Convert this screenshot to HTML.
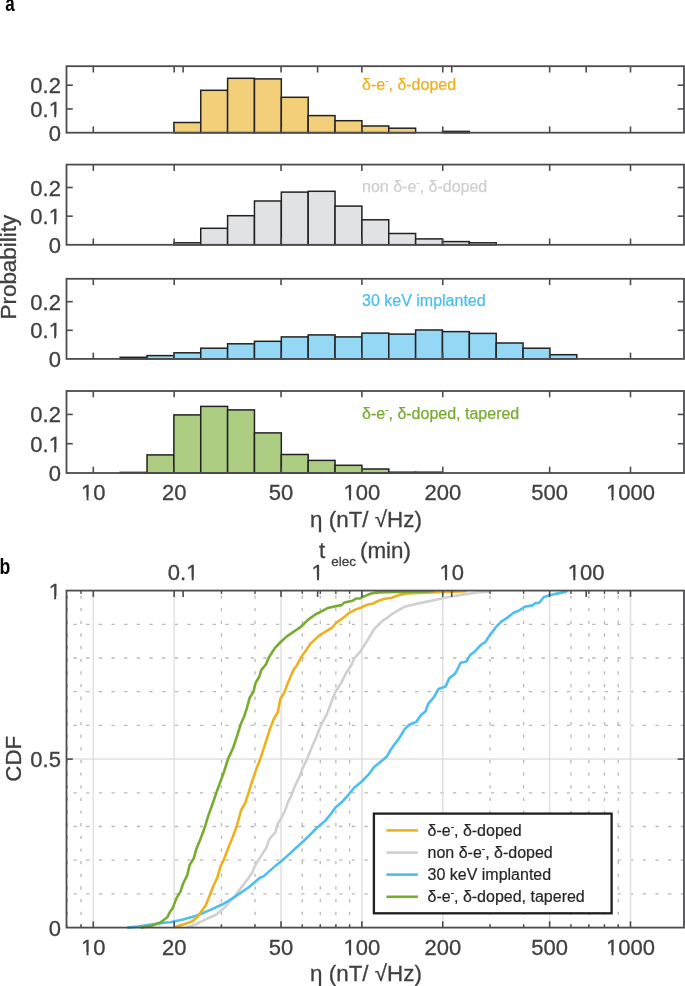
<!DOCTYPE html>
<html><head><meta charset="utf-8"><style>
html,body{margin:0;padding:0;background:#fff;}
svg{display:block;will-change:transform;}
text{font-family:"Liberation Sans", sans-serif;}
.tk{font-size:22px;fill:#404040;stroke:#404040;stroke-width:0.3px;}
.lab{font-size:22.4px;fill:#404040;stroke:#404040;stroke-width:0.3px;}
.ann{font-size:16px;}
.pl{font-size:22px;font-weight:bold;fill:#000;}
</style></head><body>
<svg width="685" height="986" viewBox="0 0 685 986">
<rect x="173.88" y="122.50" width="26.86" height="10.20" fill="#f4cf79" stroke="#222" stroke-width="1.5"/>
<rect x="200.74" y="90.30" width="26.86" height="42.40" fill="#f4cf79" stroke="#222" stroke-width="1.5"/>
<rect x="227.60" y="78.30" width="26.86" height="54.40" fill="#f4cf79" stroke="#222" stroke-width="1.5"/>
<rect x="254.46" y="78.90" width="26.86" height="53.80" fill="#f4cf79" stroke="#222" stroke-width="1.5"/>
<rect x="281.32" y="97.30" width="26.86" height="35.40" fill="#f4cf79" stroke="#222" stroke-width="1.5"/>
<rect x="308.18" y="115.60" width="26.86" height="17.10" fill="#f4cf79" stroke="#222" stroke-width="1.5"/>
<rect x="335.04" y="120.70" width="26.86" height="12.00" fill="#f4cf79" stroke="#222" stroke-width="1.5"/>
<rect x="361.90" y="126.00" width="26.86" height="6.70" fill="#f4cf79" stroke="#222" stroke-width="1.5"/>
<rect x="388.76" y="128.20" width="26.86" height="4.50" fill="#f4cf79" stroke="#222" stroke-width="1.5"/>
<rect x="415.62" y="132.70" width="26.86" height="0.00" fill="#f4cf79" stroke="#222" stroke-width="1.5"/>
<rect x="442.48" y="131.40" width="26.86" height="1.30" fill="#f4cf79" stroke="#222" stroke-width="1.5"/>
<rect x="66.5" y="66.2" width="617.5" height="66.49999999999999" fill="none" stroke="#4b4c4f" stroke-width="1.8"/>
<line x1="93.30" y1="132.7" x2="93.30" y2="126.39999999999999" stroke="#4b4c4f" stroke-width="1.6"/>
<line x1="93.30" y1="66.2" x2="93.30" y2="72.5" stroke="#4b4c4f" stroke-width="1.6"/>
<line x1="174.16" y1="132.7" x2="174.16" y2="126.39999999999999" stroke="#4b4c4f" stroke-width="1.6"/>
<line x1="174.16" y1="66.2" x2="174.16" y2="72.5" stroke="#4b4c4f" stroke-width="1.6"/>
<line x1="281.04" y1="132.7" x2="281.04" y2="126.39999999999999" stroke="#4b4c4f" stroke-width="1.6"/>
<line x1="281.04" y1="66.2" x2="281.04" y2="72.5" stroke="#4b4c4f" stroke-width="1.6"/>
<line x1="361.90" y1="132.7" x2="361.90" y2="126.39999999999999" stroke="#4b4c4f" stroke-width="1.6"/>
<line x1="361.90" y1="66.2" x2="361.90" y2="72.5" stroke="#4b4c4f" stroke-width="1.6"/>
<line x1="442.76" y1="132.7" x2="442.76" y2="126.39999999999999" stroke="#4b4c4f" stroke-width="1.6"/>
<line x1="442.76" y1="66.2" x2="442.76" y2="72.5" stroke="#4b4c4f" stroke-width="1.6"/>
<line x1="549.64" y1="132.7" x2="549.64" y2="126.39999999999999" stroke="#4b4c4f" stroke-width="1.6"/>
<line x1="549.64" y1="66.2" x2="549.64" y2="72.5" stroke="#4b4c4f" stroke-width="1.6"/>
<line x1="630.50" y1="132.7" x2="630.50" y2="126.39999999999999" stroke="#4b4c4f" stroke-width="1.6"/>
<line x1="630.50" y1="66.2" x2="630.50" y2="72.5" stroke="#4b4c4f" stroke-width="1.6"/>
<line x1="183.13" y1="66.2" x2="183.13" y2="72.5" stroke="#4b4c4f" stroke-width="1.6"/>
<line x1="317.60" y1="66.2" x2="317.60" y2="72.5" stroke="#4b4c4f" stroke-width="1.6"/>
<line x1="451.73" y1="66.2" x2="451.73" y2="72.5" stroke="#4b4c4f" stroke-width="1.6"/>
<line x1="586.20" y1="66.2" x2="586.20" y2="72.5" stroke="#4b4c4f" stroke-width="1.6"/>
<line x1="66.5" y1="108.95" x2="72.8" y2="108.95" stroke="#4b4c4f" stroke-width="1.6"/>
<line x1="684.0" y1="108.95" x2="677.7" y2="108.95" stroke="#4b4c4f" stroke-width="1.6"/>
<line x1="66.5" y1="85.20" x2="72.8" y2="85.20" stroke="#4b4c4f" stroke-width="1.6"/>
<line x1="684.0" y1="85.20" x2="677.7" y2="85.20" stroke="#4b4c4f" stroke-width="1.6"/>
<text transform="translate(60.90,140.70) scale(1,1.02)" text-anchor="end" class="tk">0</text>
<text transform="translate(60.90,116.95) scale(1,1.02)" text-anchor="end" class="tk">0.1</text>
<text transform="translate(60.90,93.20) scale(1,1.02)" text-anchor="end" class="tk">0.2</text>
<text x="362" y="90.0" class="ann" fill="#edb120" stroke="#edb120" stroke-width="0.25">δ-e<tspan dy="-6" font-size="10">-</tspan><tspan dy="6">, δ-doped</tspan></text>
<rect x="173.88" y="242.80" width="26.86" height="2.00" fill="#e1e2e3" stroke="#222" stroke-width="1.5"/>
<rect x="200.74" y="228.30" width="26.86" height="16.50" fill="#e1e2e3" stroke="#222" stroke-width="1.5"/>
<rect x="227.60" y="215.70" width="26.86" height="29.10" fill="#e1e2e3" stroke="#222" stroke-width="1.5"/>
<rect x="254.46" y="201.00" width="26.86" height="43.80" fill="#e1e2e3" stroke="#222" stroke-width="1.5"/>
<rect x="281.32" y="192.10" width="26.86" height="52.70" fill="#e1e2e3" stroke="#222" stroke-width="1.5"/>
<rect x="308.18" y="191.30" width="26.86" height="53.50" fill="#e1e2e3" stroke="#222" stroke-width="1.5"/>
<rect x="335.04" y="206.10" width="26.86" height="38.70" fill="#e1e2e3" stroke="#222" stroke-width="1.5"/>
<rect x="361.90" y="219.80" width="26.86" height="25.00" fill="#e1e2e3" stroke="#222" stroke-width="1.5"/>
<rect x="388.76" y="233.50" width="26.86" height="11.30" fill="#e1e2e3" stroke="#222" stroke-width="1.5"/>
<rect x="415.62" y="238.90" width="26.86" height="5.90" fill="#e1e2e3" stroke="#222" stroke-width="1.5"/>
<rect x="442.48" y="241.60" width="26.86" height="3.20" fill="#e1e2e3" stroke="#222" stroke-width="1.5"/>
<rect x="469.34" y="242.80" width="26.86" height="2.00" fill="#e1e2e3" stroke="#222" stroke-width="1.5"/>
<rect x="66.5" y="164.6" width="617.5" height="80.20000000000002" fill="none" stroke="#4b4c4f" stroke-width="1.8"/>
<line x1="93.30" y1="244.8" x2="93.30" y2="238.5" stroke="#4b4c4f" stroke-width="1.6"/>
<line x1="93.30" y1="164.6" x2="93.30" y2="170.9" stroke="#4b4c4f" stroke-width="1.6"/>
<line x1="174.16" y1="244.8" x2="174.16" y2="238.5" stroke="#4b4c4f" stroke-width="1.6"/>
<line x1="174.16" y1="164.6" x2="174.16" y2="170.9" stroke="#4b4c4f" stroke-width="1.6"/>
<line x1="281.04" y1="244.8" x2="281.04" y2="238.5" stroke="#4b4c4f" stroke-width="1.6"/>
<line x1="281.04" y1="164.6" x2="281.04" y2="170.9" stroke="#4b4c4f" stroke-width="1.6"/>
<line x1="361.90" y1="244.8" x2="361.90" y2="238.5" stroke="#4b4c4f" stroke-width="1.6"/>
<line x1="361.90" y1="164.6" x2="361.90" y2="170.9" stroke="#4b4c4f" stroke-width="1.6"/>
<line x1="442.76" y1="244.8" x2="442.76" y2="238.5" stroke="#4b4c4f" stroke-width="1.6"/>
<line x1="442.76" y1="164.6" x2="442.76" y2="170.9" stroke="#4b4c4f" stroke-width="1.6"/>
<line x1="549.64" y1="244.8" x2="549.64" y2="238.5" stroke="#4b4c4f" stroke-width="1.6"/>
<line x1="549.64" y1="164.6" x2="549.64" y2="170.9" stroke="#4b4c4f" stroke-width="1.6"/>
<line x1="630.50" y1="244.8" x2="630.50" y2="238.5" stroke="#4b4c4f" stroke-width="1.6"/>
<line x1="630.50" y1="164.6" x2="630.50" y2="170.9" stroke="#4b4c4f" stroke-width="1.6"/>
<line x1="66.5" y1="216.16" x2="72.8" y2="216.16" stroke="#4b4c4f" stroke-width="1.6"/>
<line x1="684.0" y1="216.16" x2="677.7" y2="216.16" stroke="#4b4c4f" stroke-width="1.6"/>
<line x1="66.5" y1="187.51" x2="72.8" y2="187.51" stroke="#4b4c4f" stroke-width="1.6"/>
<line x1="684.0" y1="187.51" x2="677.7" y2="187.51" stroke="#4b4c4f" stroke-width="1.6"/>
<text transform="translate(60.90,252.80) scale(1,1.02)" text-anchor="end" class="tk">0</text>
<text transform="translate(60.90,224.16) scale(1,1.02)" text-anchor="end" class="tk">0.1</text>
<text transform="translate(60.90,195.51) scale(1,1.02)" text-anchor="end" class="tk">0.2</text>
<text x="362" y="191.8" class="ann" fill="#cfcfcf" stroke="#cfcfcf" stroke-width="0.25">non δ-e<tspan dy="-6" font-size="10">-</tspan><tspan dy="6">, δ-doped</tspan></text>
<rect x="120.16" y="357.30" width="26.86" height="1.60" fill="#95d8f5" stroke="#222" stroke-width="1.5"/>
<rect x="147.02" y="355.60" width="26.86" height="3.30" fill="#95d8f5" stroke="#222" stroke-width="1.5"/>
<rect x="173.88" y="352.80" width="26.86" height="6.10" fill="#95d8f5" stroke="#222" stroke-width="1.5"/>
<rect x="200.74" y="348.20" width="26.86" height="10.70" fill="#95d8f5" stroke="#222" stroke-width="1.5"/>
<rect x="227.60" y="343.80" width="26.86" height="15.10" fill="#95d8f5" stroke="#222" stroke-width="1.5"/>
<rect x="254.46" y="341.30" width="26.86" height="17.60" fill="#95d8f5" stroke="#222" stroke-width="1.5"/>
<rect x="281.32" y="336.90" width="26.86" height="22.00" fill="#95d8f5" stroke="#222" stroke-width="1.5"/>
<rect x="308.18" y="334.90" width="26.86" height="24.00" fill="#95d8f5" stroke="#222" stroke-width="1.5"/>
<rect x="335.04" y="336.90" width="26.86" height="22.00" fill="#95d8f5" stroke="#222" stroke-width="1.5"/>
<rect x="361.90" y="333.10" width="26.86" height="25.80" fill="#95d8f5" stroke="#222" stroke-width="1.5"/>
<rect x="388.76" y="334.10" width="26.86" height="24.80" fill="#95d8f5" stroke="#222" stroke-width="1.5"/>
<rect x="415.62" y="330.00" width="26.86" height="28.90" fill="#95d8f5" stroke="#222" stroke-width="1.5"/>
<rect x="442.48" y="331.60" width="26.86" height="27.30" fill="#95d8f5" stroke="#222" stroke-width="1.5"/>
<rect x="469.34" y="333.40" width="26.86" height="25.50" fill="#95d8f5" stroke="#222" stroke-width="1.5"/>
<rect x="496.20" y="343.00" width="26.86" height="15.90" fill="#95d8f5" stroke="#222" stroke-width="1.5"/>
<rect x="523.06" y="348.20" width="26.86" height="10.70" fill="#95d8f5" stroke="#222" stroke-width="1.5"/>
<rect x="549.92" y="354.70" width="26.86" height="4.20" fill="#95d8f5" stroke="#222" stroke-width="1.5"/>
<rect x="66.5" y="278.8" width="617.5" height="80.09999999999997" fill="none" stroke="#4b4c4f" stroke-width="1.8"/>
<line x1="93.30" y1="358.9" x2="93.30" y2="352.59999999999997" stroke="#4b4c4f" stroke-width="1.6"/>
<line x1="93.30" y1="278.8" x2="93.30" y2="285.1" stroke="#4b4c4f" stroke-width="1.6"/>
<line x1="174.16" y1="358.9" x2="174.16" y2="352.59999999999997" stroke="#4b4c4f" stroke-width="1.6"/>
<line x1="174.16" y1="278.8" x2="174.16" y2="285.1" stroke="#4b4c4f" stroke-width="1.6"/>
<line x1="281.04" y1="358.9" x2="281.04" y2="352.59999999999997" stroke="#4b4c4f" stroke-width="1.6"/>
<line x1="281.04" y1="278.8" x2="281.04" y2="285.1" stroke="#4b4c4f" stroke-width="1.6"/>
<line x1="361.90" y1="358.9" x2="361.90" y2="352.59999999999997" stroke="#4b4c4f" stroke-width="1.6"/>
<line x1="361.90" y1="278.8" x2="361.90" y2="285.1" stroke="#4b4c4f" stroke-width="1.6"/>
<line x1="442.76" y1="358.9" x2="442.76" y2="352.59999999999997" stroke="#4b4c4f" stroke-width="1.6"/>
<line x1="442.76" y1="278.8" x2="442.76" y2="285.1" stroke="#4b4c4f" stroke-width="1.6"/>
<line x1="549.64" y1="358.9" x2="549.64" y2="352.59999999999997" stroke="#4b4c4f" stroke-width="1.6"/>
<line x1="549.64" y1="278.8" x2="549.64" y2="285.1" stroke="#4b4c4f" stroke-width="1.6"/>
<line x1="630.50" y1="358.9" x2="630.50" y2="352.59999999999997" stroke="#4b4c4f" stroke-width="1.6"/>
<line x1="630.50" y1="278.8" x2="630.50" y2="285.1" stroke="#4b4c4f" stroke-width="1.6"/>
<line x1="66.5" y1="330.29" x2="72.8" y2="330.29" stroke="#4b4c4f" stroke-width="1.6"/>
<line x1="684.0" y1="330.29" x2="677.7" y2="330.29" stroke="#4b4c4f" stroke-width="1.6"/>
<line x1="66.5" y1="301.69" x2="72.8" y2="301.69" stroke="#4b4c4f" stroke-width="1.6"/>
<line x1="684.0" y1="301.69" x2="677.7" y2="301.69" stroke="#4b4c4f" stroke-width="1.6"/>
<text transform="translate(60.90,366.90) scale(1,1.02)" text-anchor="end" class="tk">0</text>
<text transform="translate(60.90,338.29) scale(1,1.02)" text-anchor="end" class="tk">0.1</text>
<text transform="translate(60.90,309.69) scale(1,1.02)" text-anchor="end" class="tk">0.2</text>
<text x="362" y="306.0" class="ann" fill="#4dbeee" stroke="#4dbeee" stroke-width="0.25">30 keV implanted</text>
<rect x="120.16" y="472.40" width="26.86" height="0.60" fill="#adcd83" stroke="#222" stroke-width="1.5"/>
<rect x="147.02" y="454.90" width="26.86" height="18.10" fill="#adcd83" stroke="#222" stroke-width="1.5"/>
<rect x="173.88" y="414.90" width="26.86" height="58.10" fill="#adcd83" stroke="#222" stroke-width="1.5"/>
<rect x="200.74" y="406.40" width="26.86" height="66.60" fill="#adcd83" stroke="#222" stroke-width="1.5"/>
<rect x="227.60" y="409.90" width="26.86" height="63.10" fill="#adcd83" stroke="#222" stroke-width="1.5"/>
<rect x="254.46" y="432.90" width="26.86" height="40.10" fill="#adcd83" stroke="#222" stroke-width="1.5"/>
<rect x="281.32" y="454.50" width="26.86" height="18.50" fill="#adcd83" stroke="#222" stroke-width="1.5"/>
<rect x="308.18" y="460.40" width="26.86" height="12.60" fill="#adcd83" stroke="#222" stroke-width="1.5"/>
<rect x="335.04" y="465.30" width="26.86" height="7.70" fill="#adcd83" stroke="#222" stroke-width="1.5"/>
<rect x="361.90" y="469.00" width="26.86" height="4.00" fill="#adcd83" stroke="#222" stroke-width="1.5"/>
<rect x="388.76" y="472.20" width="26.86" height="0.80" fill="#adcd83" stroke="#222" stroke-width="1.5"/>
<rect x="415.62" y="472.20" width="26.86" height="0.80" fill="#adcd83" stroke="#222" stroke-width="1.5"/>
<rect x="66.5" y="391.0" width="617.5" height="82.0" fill="none" stroke="#4b4c4f" stroke-width="1.8"/>
<line x1="93.30" y1="473.0" x2="93.30" y2="466.7" stroke="#4b4c4f" stroke-width="1.6"/>
<line x1="93.30" y1="391.0" x2="93.30" y2="397.3" stroke="#4b4c4f" stroke-width="1.6"/>
<line x1="174.16" y1="473.0" x2="174.16" y2="466.7" stroke="#4b4c4f" stroke-width="1.6"/>
<line x1="174.16" y1="391.0" x2="174.16" y2="397.3" stroke="#4b4c4f" stroke-width="1.6"/>
<line x1="281.04" y1="473.0" x2="281.04" y2="466.7" stroke="#4b4c4f" stroke-width="1.6"/>
<line x1="281.04" y1="391.0" x2="281.04" y2="397.3" stroke="#4b4c4f" stroke-width="1.6"/>
<line x1="361.90" y1="473.0" x2="361.90" y2="466.7" stroke="#4b4c4f" stroke-width="1.6"/>
<line x1="361.90" y1="391.0" x2="361.90" y2="397.3" stroke="#4b4c4f" stroke-width="1.6"/>
<line x1="442.76" y1="473.0" x2="442.76" y2="466.7" stroke="#4b4c4f" stroke-width="1.6"/>
<line x1="442.76" y1="391.0" x2="442.76" y2="397.3" stroke="#4b4c4f" stroke-width="1.6"/>
<line x1="549.64" y1="473.0" x2="549.64" y2="466.7" stroke="#4b4c4f" stroke-width="1.6"/>
<line x1="549.64" y1="391.0" x2="549.64" y2="397.3" stroke="#4b4c4f" stroke-width="1.6"/>
<line x1="630.50" y1="473.0" x2="630.50" y2="466.7" stroke="#4b4c4f" stroke-width="1.6"/>
<line x1="630.50" y1="391.0" x2="630.50" y2="397.3" stroke="#4b4c4f" stroke-width="1.6"/>
<line x1="66.5" y1="443.71" x2="72.8" y2="443.71" stroke="#4b4c4f" stroke-width="1.6"/>
<line x1="684.0" y1="443.71" x2="677.7" y2="443.71" stroke="#4b4c4f" stroke-width="1.6"/>
<line x1="66.5" y1="414.43" x2="72.8" y2="414.43" stroke="#4b4c4f" stroke-width="1.6"/>
<line x1="684.0" y1="414.43" x2="677.7" y2="414.43" stroke="#4b4c4f" stroke-width="1.6"/>
<text transform="translate(60.90,481.00) scale(1,1.02)" text-anchor="end" class="tk">0</text>
<text transform="translate(60.90,451.71) scale(1,1.02)" text-anchor="end" class="tk">0.1</text>
<text transform="translate(60.90,422.43) scale(1,1.02)" text-anchor="end" class="tk">0.2</text>
<text x="362" y="419.1" class="ann" fill="#77ac30" stroke="#77ac30" stroke-width="0.25">δ-e<tspan dy="-6" font-size="10">-</tspan><tspan dy="6">, δ-doped, tapered</tspan></text>
<text transform="translate(93.30,499.50) scale(1,1.02)" text-anchor="middle" class="tk">10</text>
<text transform="translate(174.16,499.50) scale(1,1.02)" text-anchor="middle" class="tk">20</text>
<text transform="translate(281.04,499.50) scale(1,1.02)" text-anchor="middle" class="tk">50</text>
<text transform="translate(361.90,499.50) scale(1,1.02)" text-anchor="middle" class="tk">100</text>
<text transform="translate(442.76,499.50) scale(1,1.02)" text-anchor="middle" class="tk">200</text>
<text transform="translate(549.64,499.50) scale(1,1.02)" text-anchor="middle" class="tk">500</text>
<text transform="translate(630.50,499.50) scale(1,1.02)" text-anchor="middle" class="tk">1000</text>
<text x="366" y="526.6" text-anchor="middle" class="lab">η (nT/ √Hz)</text>
<text transform="translate(15.9,267.2) rotate(-90)" text-anchor="middle" class="lab">Probability</text>
<text transform="translate(5.2,11) scale(0.77,1)" class="pl">a</text>
<text transform="translate(-0.4,574) scale(0.8,1)" class="pl">b</text>
<line x1="67.27" y1="927.6" x2="67.27" y2="590.6" stroke="#b8b8b8" stroke-width="1.3" stroke-dasharray="3.3 9.35"/>
<line x1="81.01" y1="927.6" x2="81.01" y2="590.6" stroke="#b8b8b8" stroke-width="1.3" stroke-dasharray="3.3 9.35"/>
<line x1="221.45" y1="927.6" x2="221.45" y2="590.6" stroke="#b8b8b8" stroke-width="1.3" stroke-dasharray="3.3 9.35"/>
<line x1="255.01" y1="927.6" x2="255.01" y2="590.6" stroke="#b8b8b8" stroke-width="1.3" stroke-dasharray="3.3 9.35"/>
<line x1="302.31" y1="927.6" x2="302.31" y2="590.6" stroke="#b8b8b8" stroke-width="1.3" stroke-dasharray="3.3 9.35"/>
<line x1="320.29" y1="927.6" x2="320.29" y2="590.6" stroke="#b8b8b8" stroke-width="1.3" stroke-dasharray="3.3 9.35"/>
<line x1="335.87" y1="927.6" x2="335.87" y2="590.6" stroke="#b8b8b8" stroke-width="1.3" stroke-dasharray="3.3 9.35"/>
<line x1="349.61" y1="927.6" x2="349.61" y2="590.6" stroke="#b8b8b8" stroke-width="1.3" stroke-dasharray="3.3 9.35"/>
<line x1="490.05" y1="927.6" x2="490.05" y2="590.6" stroke="#b8b8b8" stroke-width="1.3" stroke-dasharray="3.3 9.35"/>
<line x1="523.61" y1="927.6" x2="523.61" y2="590.6" stroke="#b8b8b8" stroke-width="1.3" stroke-dasharray="3.3 9.35"/>
<line x1="570.91" y1="927.6" x2="570.91" y2="590.6" stroke="#b8b8b8" stroke-width="1.3" stroke-dasharray="3.3 9.35"/>
<line x1="588.89" y1="927.6" x2="588.89" y2="590.6" stroke="#b8b8b8" stroke-width="1.3" stroke-dasharray="3.3 9.35"/>
<line x1="604.47" y1="927.6" x2="604.47" y2="590.6" stroke="#b8b8b8" stroke-width="1.3" stroke-dasharray="3.3 9.35"/>
<line x1="618.21" y1="927.6" x2="618.21" y2="590.6" stroke="#b8b8b8" stroke-width="1.3" stroke-dasharray="3.3 9.35"/>
<line x1="684.0" y1="893.90" x2="66.5" y2="893.90" stroke="#b8b8b8" stroke-width="1.3" stroke-dasharray="3.3 9.35"/>
<line x1="684.0" y1="860.20" x2="66.5" y2="860.20" stroke="#b8b8b8" stroke-width="1.3" stroke-dasharray="3.3 9.35"/>
<line x1="684.0" y1="826.50" x2="66.5" y2="826.50" stroke="#b8b8b8" stroke-width="1.3" stroke-dasharray="3.3 9.35"/>
<line x1="684.0" y1="792.80" x2="66.5" y2="792.80" stroke="#b8b8b8" stroke-width="1.3" stroke-dasharray="3.3 9.35"/>
<line x1="684.0" y1="725.40" x2="66.5" y2="725.40" stroke="#b8b8b8" stroke-width="1.3" stroke-dasharray="3.3 9.35"/>
<line x1="684.0" y1="691.70" x2="66.5" y2="691.70" stroke="#b8b8b8" stroke-width="1.3" stroke-dasharray="3.3 9.35"/>
<line x1="684.0" y1="658.00" x2="66.5" y2="658.00" stroke="#b8b8b8" stroke-width="1.3" stroke-dasharray="3.3 9.35"/>
<line x1="684.0" y1="624.30" x2="66.5" y2="624.30" stroke="#b8b8b8" stroke-width="1.3" stroke-dasharray="3.3 9.35"/>
<line x1="93.30" y1="590.6" x2="93.30" y2="927.6" stroke="#e0e0e0" stroke-width="1.5"/>
<line x1="174.16" y1="590.6" x2="174.16" y2="927.6" stroke="#e0e0e0" stroke-width="1.5"/>
<line x1="281.04" y1="590.6" x2="281.04" y2="927.6" stroke="#e0e0e0" stroke-width="1.5"/>
<line x1="361.90" y1="590.6" x2="361.90" y2="927.6" stroke="#e0e0e0" stroke-width="1.5"/>
<line x1="442.76" y1="590.6" x2="442.76" y2="927.6" stroke="#e0e0e0" stroke-width="1.5"/>
<line x1="549.64" y1="590.6" x2="549.64" y2="927.6" stroke="#e0e0e0" stroke-width="1.5"/>
<line x1="630.50" y1="590.6" x2="630.50" y2="927.6" stroke="#e0e0e0" stroke-width="1.5"/>
<line x1="66.5" y1="759.10" x2="684.0" y2="759.10" stroke="#e0e0e0" stroke-width="1.5"/>
<polyline points="186.6,927.6 196.3,924.2 206.8,918.8 216.0,914.8 225.2,907.0 235.7,894.9 243.6,884.5 251.5,874.0 256.1,863.6 261.4,855.5 266.0,848.4 269.5,839.0 275.4,832.2 277.7,823.8 281.2,818.1 285.3,810.0 288.2,801.6 291.7,794.8 295.2,785.4 299.9,776.0 302.2,768.9 307.0,759.1 311.4,748.3 316.5,736.5 320.9,725.4 326.7,714.6 331.1,702.8 335.5,691.7 341.3,682.6 345.7,673.8 351.5,664.7 354.5,658.0 360.3,651.6 367.6,640.1 373.8,629.7 382.6,620.6 386.7,618.1 391.8,614.2 397.9,610.5 404.0,607.1 411.2,605.1 418.4,603.4 428.5,601.4 441.7,598.5 452.6,596.3 465.8,594.1 480.0,592.3 490.0,591.6" fill="none" stroke="#d0d0d0" stroke-width="2.6" stroke-linejoin="round"/>
<polyline points="127.0,927.6 137.5,926.6 151.5,924.6 165.5,922.5 170.0,922.2 183.1,919.5 196.3,915.8 209.4,910.4 222.6,904.3 235.7,896.3 248.8,887.2 260.0,877.7 263.5,876.4 276.5,864.9 282.4,860.2 289.4,854.1 296.4,847.4 303.4,841.3 309.2,835.6 316.2,828.5 325.0,821.1 330.8,814.0 335.5,807.6 341.4,802.6 348.4,794.8 354.2,787.7 361.2,782.0 368.2,774.9 374.1,766.9 382.2,760.4 386.9,756.4 390.4,750.3 395.1,743.6 399.7,737.5 404.7,729.1 409.3,724.7 416.4,721.7 421.0,715.0 425.7,711.2 428.0,704.2 433.9,697.1 438.5,689.0 445.5,686.6 449.1,678.6 454.9,673.8 457.2,669.8 460.7,662.7 466.6,661.4 470.1,655.0 474.7,651.6 480.8,644.9 485.2,642.2 489.6,635.4 496.9,626.0 501.3,621.6 507.1,617.9 513.7,612.8 518.8,610.8 524.6,606.8 532.7,605.4 534.9,603.4 539.2,602.7 543.6,597.3 549.5,595.3 556.8,593.6 565.5,591.9 567.0,590.6" fill="none" stroke="#4dbeee" stroke-width="2.6" stroke-linejoin="round"/>
<polyline points="173.4,927.6 183.1,924.6 192.3,921.2 197.1,917.2 200.2,913.1 205.5,905.7 209.4,896.3 213.4,885.8 217.3,877.7 220.6,866.3 223.9,859.5 227.8,849.1 232.0,839.0 236.6,826.5 241.2,810.0 245.2,803.2 248.5,792.8 251.8,782.4 256.7,767.9 260.3,759.1 264.7,745.3 269.9,729.1 273.9,718.7 277.8,712.3 280.4,698.8 284.4,692.4 288.3,681.9 293.4,670.1 297.3,664.7 301.2,657.0 305.2,651.6 310.4,643.8 318.3,636.4 325.8,631.4 331.7,628.0 335.8,623.3 340.4,619.9 345.1,616.5 349.2,612.8 355.0,609.8 361.1,607.5 367.3,604.8 373.4,603.4 378.5,600.7 384.6,598.7 390.8,598.0 395.9,596.2 401.0,594.6 406.1,593.6 412.2,593.1 425.0,592.6 440.0,592.1 455.0,591.6 466.4,591.3" fill="none" stroke="#edb120" stroke-width="2.6" stroke-linejoin="round"/>
<polyline points="141.0,927.6 151.5,925.7 160.3,922.5 167.3,917.2 170.0,911.8 172.6,908.4 176.6,897.9 180.4,891.9 183.1,883.5 187.1,875.7 189.7,864.9 193.7,858.5 196.3,849.1 200.5,839.0 205.1,826.5 208.4,815.4 211.7,806.3 216.3,792.8 219.6,783.7 223.5,773.3 228.0,759.1 233.1,748.0 237.1,735.8 240.4,725.1 244.3,716.0 246.9,708.2 249.6,697.8 253.5,691.7 255.5,683.1 259.4,676.5 261.2,670.1 265.8,664.7 269.1,657.0 275.0,647.9 280.2,642.5 286.8,636.4 294.7,631.0 301.2,626.7 307.8,619.9 315.7,614.2 320.0,612.2 327.6,608.1 334.6,606.4 341.6,605.1 344.5,602.4 352.7,600.7 356.0,598.5 360.1,598.4 363.2,596.7 368.3,594.6 371.4,593.6 375.4,592.6 385.7,592.1 401.0,591.9 420.0,591.6 434.3,591.3" fill="none" stroke="#77ac30" stroke-width="2.6" stroke-linejoin="round"/>
<rect x="66.5" y="590.6" width="617.5" height="337.0" fill="none" stroke="#4b4c4f" stroke-width="1.8"/>
<line x1="93.30" y1="927.6" x2="93.30" y2="921.3000000000001" stroke="#4b4c4f" stroke-width="1.6"/>
<line x1="93.30" y1="590.6" x2="93.30" y2="596.9" stroke="#4b4c4f" stroke-width="1.6"/>
<line x1="174.16" y1="927.6" x2="174.16" y2="921.3000000000001" stroke="#4b4c4f" stroke-width="1.6"/>
<line x1="174.16" y1="590.6" x2="174.16" y2="596.9" stroke="#4b4c4f" stroke-width="1.6"/>
<line x1="281.04" y1="927.6" x2="281.04" y2="921.3000000000001" stroke="#4b4c4f" stroke-width="1.6"/>
<line x1="281.04" y1="590.6" x2="281.04" y2="596.9" stroke="#4b4c4f" stroke-width="1.6"/>
<line x1="361.90" y1="927.6" x2="361.90" y2="921.3000000000001" stroke="#4b4c4f" stroke-width="1.6"/>
<line x1="361.90" y1="590.6" x2="361.90" y2="596.9" stroke="#4b4c4f" stroke-width="1.6"/>
<line x1="442.76" y1="927.6" x2="442.76" y2="921.3000000000001" stroke="#4b4c4f" stroke-width="1.6"/>
<line x1="442.76" y1="590.6" x2="442.76" y2="596.9" stroke="#4b4c4f" stroke-width="1.6"/>
<line x1="549.64" y1="927.6" x2="549.64" y2="921.3000000000001" stroke="#4b4c4f" stroke-width="1.6"/>
<line x1="549.64" y1="590.6" x2="549.64" y2="596.9" stroke="#4b4c4f" stroke-width="1.6"/>
<line x1="630.50" y1="927.6" x2="630.50" y2="921.3000000000001" stroke="#4b4c4f" stroke-width="1.6"/>
<line x1="630.50" y1="590.6" x2="630.50" y2="596.9" stroke="#4b4c4f" stroke-width="1.6"/>
<line x1="81.01" y1="927.6" x2="81.01" y2="924.3000000000001" stroke="#4b4c4f" stroke-width="1.4"/>
<line x1="81.01" y1="590.6" x2="81.01" y2="593.9" stroke="#4b4c4f" stroke-width="1.4"/>
<line x1="221.45" y1="927.6" x2="221.45" y2="924.3000000000001" stroke="#4b4c4f" stroke-width="1.4"/>
<line x1="221.45" y1="590.6" x2="221.45" y2="593.9" stroke="#4b4c4f" stroke-width="1.4"/>
<line x1="255.01" y1="927.6" x2="255.01" y2="924.3000000000001" stroke="#4b4c4f" stroke-width="1.4"/>
<line x1="255.01" y1="590.6" x2="255.01" y2="593.9" stroke="#4b4c4f" stroke-width="1.4"/>
<line x1="302.31" y1="927.6" x2="302.31" y2="924.3000000000001" stroke="#4b4c4f" stroke-width="1.4"/>
<line x1="302.31" y1="590.6" x2="302.31" y2="593.9" stroke="#4b4c4f" stroke-width="1.4"/>
<line x1="320.29" y1="927.6" x2="320.29" y2="924.3000000000001" stroke="#4b4c4f" stroke-width="1.4"/>
<line x1="320.29" y1="590.6" x2="320.29" y2="593.9" stroke="#4b4c4f" stroke-width="1.4"/>
<line x1="335.87" y1="927.6" x2="335.87" y2="924.3000000000001" stroke="#4b4c4f" stroke-width="1.4"/>
<line x1="335.87" y1="590.6" x2="335.87" y2="593.9" stroke="#4b4c4f" stroke-width="1.4"/>
<line x1="349.61" y1="927.6" x2="349.61" y2="924.3000000000001" stroke="#4b4c4f" stroke-width="1.4"/>
<line x1="349.61" y1="590.6" x2="349.61" y2="593.9" stroke="#4b4c4f" stroke-width="1.4"/>
<line x1="490.05" y1="927.6" x2="490.05" y2="924.3000000000001" stroke="#4b4c4f" stroke-width="1.4"/>
<line x1="490.05" y1="590.6" x2="490.05" y2="593.9" stroke="#4b4c4f" stroke-width="1.4"/>
<line x1="523.61" y1="927.6" x2="523.61" y2="924.3000000000001" stroke="#4b4c4f" stroke-width="1.4"/>
<line x1="523.61" y1="590.6" x2="523.61" y2="593.9" stroke="#4b4c4f" stroke-width="1.4"/>
<line x1="570.91" y1="927.6" x2="570.91" y2="924.3000000000001" stroke="#4b4c4f" stroke-width="1.4"/>
<line x1="570.91" y1="590.6" x2="570.91" y2="593.9" stroke="#4b4c4f" stroke-width="1.4"/>
<line x1="588.89" y1="927.6" x2="588.89" y2="924.3000000000001" stroke="#4b4c4f" stroke-width="1.4"/>
<line x1="588.89" y1="590.6" x2="588.89" y2="593.9" stroke="#4b4c4f" stroke-width="1.4"/>
<line x1="604.47" y1="927.6" x2="604.47" y2="924.3000000000001" stroke="#4b4c4f" stroke-width="1.4"/>
<line x1="604.47" y1="590.6" x2="604.47" y2="593.9" stroke="#4b4c4f" stroke-width="1.4"/>
<line x1="618.21" y1="927.6" x2="618.21" y2="924.3000000000001" stroke="#4b4c4f" stroke-width="1.4"/>
<line x1="618.21" y1="590.6" x2="618.21" y2="593.9" stroke="#4b4c4f" stroke-width="1.4"/>
<line x1="183.13" y1="590.6" x2="183.13" y2="596.9" stroke="#4b4c4f" stroke-width="1.6"/>
<line x1="317.60" y1="590.6" x2="317.60" y2="596.9" stroke="#4b4c4f" stroke-width="1.6"/>
<line x1="451.73" y1="590.6" x2="451.73" y2="596.9" stroke="#4b4c4f" stroke-width="1.6"/>
<line x1="586.20" y1="590.6" x2="586.20" y2="596.9" stroke="#4b4c4f" stroke-width="1.6"/>
<line x1="66.5" y1="759.10" x2="72.8" y2="759.10" stroke="#4b4c4f" stroke-width="1.6"/>
<line x1="684.0" y1="759.10" x2="677.7" y2="759.10" stroke="#4b4c4f" stroke-width="1.6"/>
<text transform="translate(60.90,935.60) scale(1,1.02)" text-anchor="end" class="tk">0</text>
<text transform="translate(60.90,767.10) scale(1,1.02)" text-anchor="end" class="tk">0.5</text>
<text transform="translate(60.90,598.60) scale(1,1.02)" text-anchor="end" class="tk">1</text>
<text transform="translate(93.30,954.80) scale(1,1.02)" text-anchor="middle" class="tk">10</text>
<text transform="translate(174.16,954.80) scale(1,1.02)" text-anchor="middle" class="tk">20</text>
<text transform="translate(281.04,954.80) scale(1,1.02)" text-anchor="middle" class="tk">50</text>
<text transform="translate(361.90,954.80) scale(1,1.02)" text-anchor="middle" class="tk">100</text>
<text transform="translate(442.76,954.80) scale(1,1.02)" text-anchor="middle" class="tk">200</text>
<text transform="translate(549.64,954.80) scale(1,1.02)" text-anchor="middle" class="tk">500</text>
<text transform="translate(630.50,954.80) scale(1,1.02)" text-anchor="middle" class="tk">1000</text>
<text transform="translate(183.13,580.00) scale(1,1.02)" text-anchor="middle" class="tk">0.1</text>
<text transform="translate(317.60,580.00) scale(1,1.02)" text-anchor="middle" class="tk">1</text>
<text transform="translate(451.73,580.00) scale(1,1.02)" text-anchor="middle" class="tk">10</text>
<text transform="translate(586.20,580.00) scale(1,1.02)" text-anchor="middle" class="tk">100</text>
<text x="366" y="980.6" text-anchor="middle" class="lab">η (nT/ √Hz)</text>
<text transform="translate(21,758.7) rotate(-90)" text-anchor="middle" class="lab">CDF</text>
<text x="319" y="557.6" class="lab">t<tspan font-size="13.5" dx="6" dy="8">elec</tspan><tspan dx="4" dy="-8">(min)</tspan></text>
<rect x="373.9" y="813.6" width="237.70000000000005" height="99.69999999999993" fill="#fff" stroke="#1e1e1e" stroke-width="2.3"/>
<line x1="386.4" y1="830.4" x2="417.9" y2="830.4" stroke="#edb120" stroke-width="2.6"/>
<text x="427.5" y="835.6" class="ann" fill="#262626" stroke="#262626" stroke-width="0.2">δ-e<tspan dy="-6" font-size="10">-</tspan><tspan dy="6">, δ-doped</tspan></text>
<line x1="386.4" y1="852.6" x2="417.9" y2="852.6" stroke="#d0d0d0" stroke-width="2.6"/>
<text x="427.5" y="857.8000000000001" class="ann" fill="#262626" stroke="#262626" stroke-width="0.2">non δ-e<tspan dy="-6" font-size="10">-</tspan><tspan dy="6">, δ-doped</tspan></text>
<line x1="386.4" y1="874.6" x2="417.9" y2="874.6" stroke="#4dbeee" stroke-width="2.6"/>
<text x="427.5" y="879.8000000000001" class="ann" fill="#262626" stroke="#262626" stroke-width="0.2">30 keV implanted</text>
<line x1="386.4" y1="896.8" x2="417.9" y2="896.8" stroke="#77ac30" stroke-width="2.6"/>
<text x="427.5" y="902.0" class="ann" fill="#262626" stroke="#262626" stroke-width="0.2">δ-e<tspan dy="-6" font-size="10">-</tspan><tspan dy="6">, δ-doped, tapered</tspan></text>
<rect x="49.09" y="114.35" width="5.10" height="3.80" fill="#fff"/>
<rect x="56.14" y="114.35" width="4.34" height="3.80" fill="#fff"/>
<rect x="49.09" y="221.56" width="5.10" height="3.80" fill="#fff"/>
<rect x="56.14" y="221.56" width="4.34" height="3.80" fill="#fff"/>
<rect x="49.09" y="335.69" width="5.10" height="3.80" fill="#fff"/>
<rect x="56.14" y="335.69" width="4.34" height="3.80" fill="#fff"/>
<rect x="49.09" y="449.12" width="5.10" height="3.80" fill="#fff"/>
<rect x="56.14" y="449.12" width="4.34" height="3.80" fill="#fff"/>
<rect x="81.49" y="496.90" width="5.10" height="3.80" fill="#fff"/>
<rect x="88.54" y="496.90" width="4.34" height="3.80" fill="#fff"/>
<rect x="343.98" y="496.90" width="5.10" height="3.80" fill="#fff"/>
<rect x="351.02" y="496.90" width="4.34" height="3.80" fill="#fff"/>
<rect x="606.46" y="496.90" width="5.10" height="3.80" fill="#fff"/>
<rect x="613.51" y="496.90" width="4.34" height="3.80" fill="#fff"/>
<rect x="49.09" y="596.00" width="5.10" height="3.80" fill="#fff"/>
<rect x="56.14" y="596.00" width="4.34" height="3.80" fill="#fff"/>
<rect x="81.49" y="952.20" width="5.10" height="3.80" fill="#fff"/>
<rect x="88.54" y="952.20" width="4.34" height="3.80" fill="#fff"/>
<rect x="343.98" y="952.20" width="5.10" height="3.80" fill="#fff"/>
<rect x="351.02" y="952.20" width="4.34" height="3.80" fill="#fff"/>
<rect x="606.46" y="952.20" width="5.10" height="3.80" fill="#fff"/>
<rect x="613.51" y="952.20" width="4.34" height="3.80" fill="#fff"/>
<rect x="186.62" y="577.40" width="5.10" height="3.80" fill="#fff"/>
<rect x="193.67" y="577.40" width="4.34" height="3.80" fill="#fff"/>
<rect x="311.91" y="577.40" width="5.10" height="3.80" fill="#fff"/>
<rect x="318.95" y="577.40" width="4.34" height="3.80" fill="#fff"/>
<rect x="439.93" y="577.40" width="5.10" height="3.80" fill="#fff"/>
<rect x="446.98" y="577.40" width="4.34" height="3.80" fill="#fff"/>
<rect x="568.27" y="577.40" width="5.10" height="3.80" fill="#fff"/>
<rect x="575.32" y="577.40" width="4.34" height="3.80" fill="#fff"/>
</svg>
</body></html>
